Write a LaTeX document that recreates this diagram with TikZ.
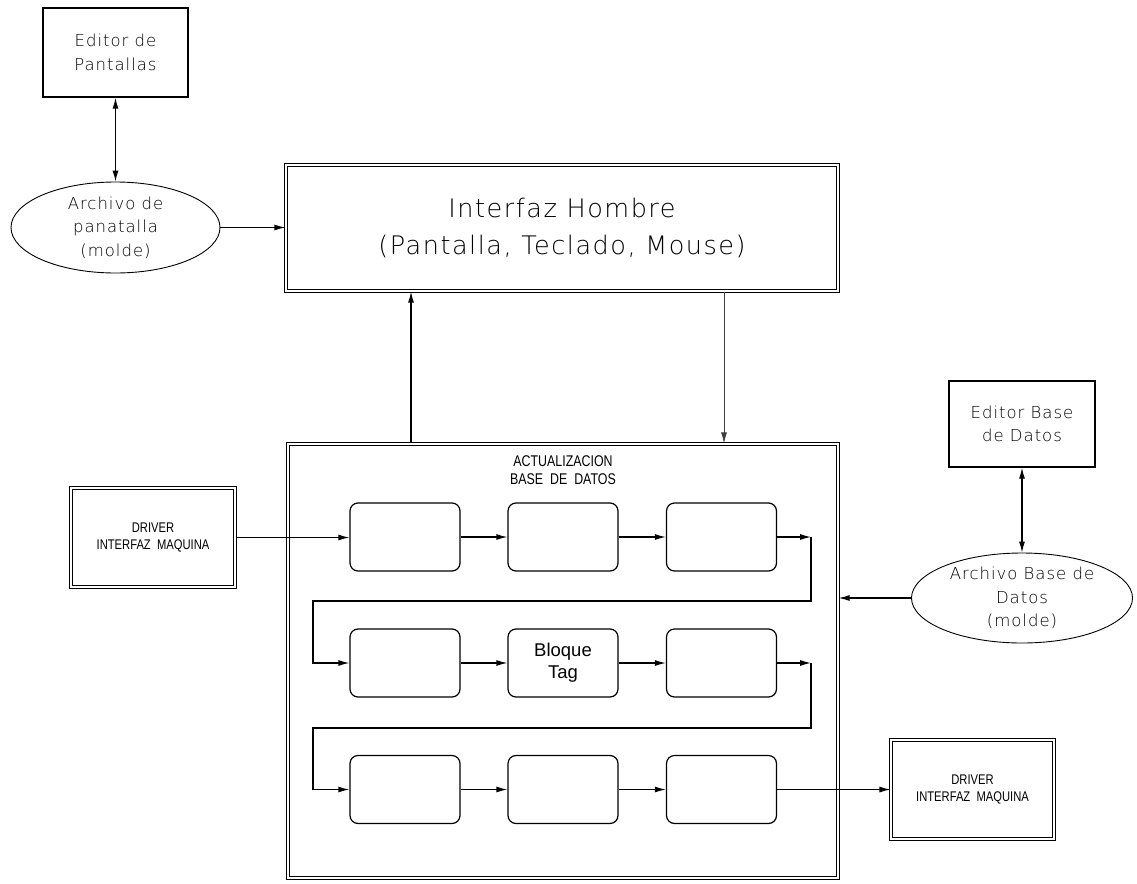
\documentclass[tikz,border=0pt]{standalone}
\usepackage{fontspec}
\usetikzlibrary{arrows.meta,shapes.geometric,calc}
% thin stroked lettering for the labels, condensed capitals for small titles
\IfFontExistsTF{DejaVu Sans ExtraLight}
  {\newfontfamily\cadfont[LetterSpace=6]{DejaVu Sans ExtraLight}}
  {\newfontfamily\cadfont[LetterSpace=6]{DejaVu Sans}}
\newfontfamily\capfont[FakeStretch=0.8]{Liberation Sans}
\newfontfamily\tagfont{Liberation Sans}

\begin{document}
\begin{tikzpicture}[x=1pt,y=-1pt,
  every node/.style={inner sep=0pt, align=center, text=black},
  plainbox/.style={draw, line width=1.3pt},
  dblbox/.style={draw, line width=1.1pt, double, double distance=2.6pt},
  oval/.style={ellipse, draw, line width=0.9pt, minimum width=#1},
  stage/.style={draw, rounded corners=8pt, line width=1.2pt,
                minimum width=110pt, minimum height=68pt},
  link/.style={line width=1.2pt},
  thinlink/.style={line width=0.8pt, draw=black!75},
  tip/.tip={Latex[length=11pt,width=6pt]},
  arr/.style={link, -tip},
  biarr/.style={link, tip-tip},
  lbl/.style={font=\cadfont\fontsize{16.5}{23.5}\selectfont},
  biglbl/.style={font=\cadfont\fontsize{25.5}{37}\selectfont},
  caplbl/.style={font=\capfont\fontsize{15.5}{18}\selectfont},
  drvlbl/.style={font=\capfont\fontsize{14}{17}\selectfont},
  taglbl/.style={font=\tagfont\fontsize{18.5}{22}\selectfont}
]
\useasboundingbox (0,0) rectangle (1137,883);

% --- screen editing side -------------------------------------------------
\node[plainbox, lbl, minimum width=145pt, minimum height=89pt]
  (edp) at (115.5,52.5) {Editor de\\Pantallas};
\node[oval=209pt, minimum height=91pt,
      label={[lbl]center:Archivo de\\panatalla\\(molde)}]
  (arch1) at (115.5,227.5) {};

% --- human interface -----------------------------------------------------
\node[dblbox, biglbl, minimum width=552pt, minimum height=126pt]
  (ih) at (562,228) {Interfaz Hombre\\(Pantalla, Teclado, Mouse)};

% --- database update block -----------------------------------------------
\node[dblbox, minimum width=550pt, minimum height=434pt]
  (sub) at (563,661) {};
\node[caplbl] (title) at (563,470)
  {ACTUALIZACION\\BASE\ \ DE\ \ DATOS};

\node[stage] (r1c1) at (405,537) {};
\node[stage] (r1c2) at (563,537) {};
\node[stage] (r1c3) at (721.5,537) {};
\node[stage] (r2c1) at (405,663) {};
\node[stage, taglbl] (r2c2) at (563,663) {Bloque\\Tag};
\node[stage] (r2c3) at (721.5,663) {};
\node[stage] (r3c1) at (405,789.5) {};
\node[stage] (r3c2) at (563,789.5) {};
\node[stage] (r3c3) at (721.5,789.5) {};

% --- machine drivers -----------------------------------------------------
\node[dblbox, drvlbl, minimum width=164pt, minimum height=99pt]
  (drv1) at (153,537.5) {DRIVER\\INTERFAZ\ \ MAQUINA};
\node[dblbox, drvlbl, minimum width=163pt, minimum height=99pt]
  (drv2) at (972.5,789.5) {DRIVER\\INTERFAZ\ \ MAQUINA};

% --- database editing side -----------------------------------------------
\node[plainbox, lbl, minimum width=146pt, minimum height=86pt]
  (edb) at (1022,424) {Editor Base\\de Datos};
\node[oval=221pt, minimum height=90pt,
      label={[lbl]center:Archivo Base de\\Datos\\(molde)}]
  (arch2) at (1022,598) {};

% routing columns and rows of the chain
\coordinate (upx) at (411,0);
\coordinate (dnx) at (724,0);
\coordinate (rx) at (811,0);
\coordinate (lx) at (313,0);
\coordinate (t1) at (0,601);
\coordinate (t2) at (0,728);

% --- connectors ----------------------------------------------------------
\draw[biarr] (edp.south) -- (arch1.north);
\draw[arr] (arch1.east) -- (arch1.east -| ih.west);
\draw[arr] (sub.north -| upx) -- (ih.south -| upx);
\draw[thinlink, -tip] (ih.south -| dnx) -- (sub.north -| dnx);

\draw[biarr] (edb.south) -- (arch2.north);
\draw[arr] (arch2.west) -- (arch2.west -| sub.east);

\draw[arr] (drv1) -- (drv1 -| r1c1.west);
\draw[arr] (r1c1) -- (r1c2);
\draw[arr] (r1c2) -- (r1c3);
\draw[arr] (r1c3) -- (r1c3 -| rx);
\draw[arr] (rx |- r1c3) -- (rx |- t1) -- (lx |- t1) -- (lx |- r2c1) -- (r2c1);
\draw[arr] (r2c1) -- (r2c2);
\draw[arr] (r2c2) -- (r2c3);
\draw[arr] (r2c3) -- (r2c3 -| rx);
\draw[arr] (rx |- r2c3) -- (rx |- t2) -- (lx |- t2) -- (lx |- r3c1) -- (r3c1);
\draw[arr] (r3c1) -- (r3c2);
\draw[arr] (r3c2) -- (r3c3);
\draw[arr] (r3c3) -- (r3c3 -| drv2.west);
\end{tikzpicture}
\end{document}
